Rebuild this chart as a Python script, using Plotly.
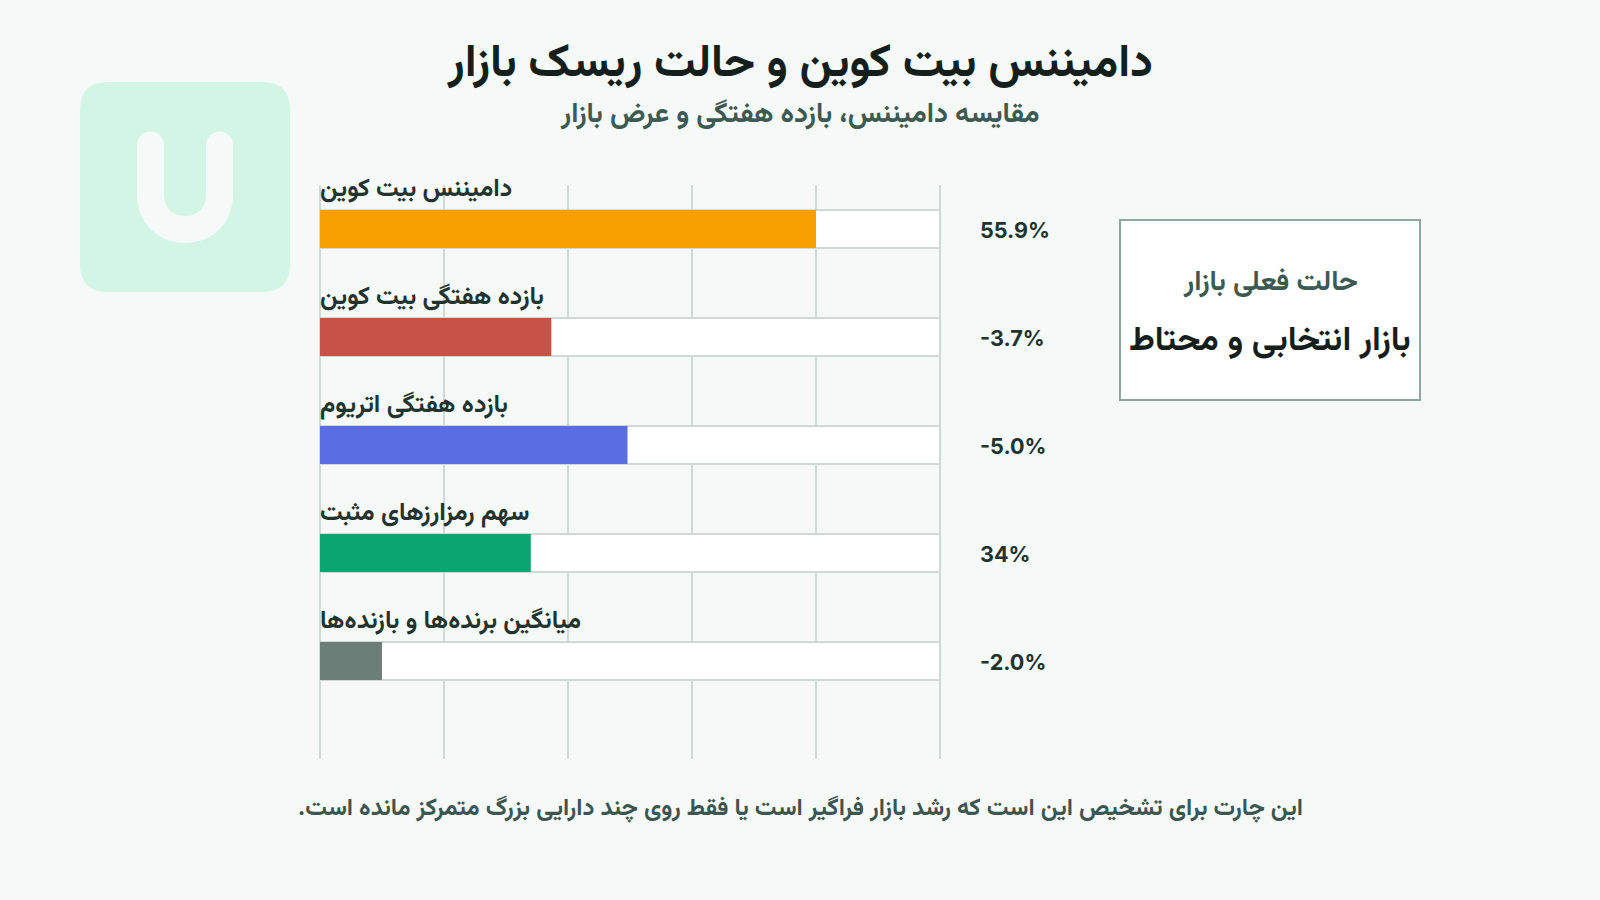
import plotly.graph_objects as go

# metric names, bar fill (score out of 100) and the printed value beside each bar
categories = ['دامیننس بیت کوین', 'بازده هفتگی بیت کوین', 'بازده هفتگی اتریوم', 'سهم رمزارزهای مثبت', 'میانگین برنده‌ها و بازنده‌ها']
scores = [80, 37.3, 49.6, 34, 10]
track = [100, 100, 100, 100, 100]
value_labels = ['55.9%', '-3.7%', '-5.0%', '34%', '-2.0%']
bar_colors = ['#F7A000', '#C85245', '#5B6EE1', '#0BA572', '#6B7F78']

title = 'دامیننس بیت کوین و حالت ریسک بازار'
subtitle = 'مقایسه دامیننس، بازده هفتگی و عرض بازار'
footer = 'این چارت برای تشخیص این است که رشد بازار فراگیر است یا فقط روی چند دارایی بزرگ متمرکز مانده است.\u200f'
box_title = 'حالت فعلی بازار'
box_value = 'بازار انتخابی و محتاط'

W, H = 1600, 900
BG = '#F5F9F8'
GRID = '#CFD9D6'
FONT = 'Vazirmatn'


def px(x):
    return x / W


def py(y):
    return 1 - y / H


fig = go.Figure()
fig.add_trace(go.Bar(y=categories, x=track, orientation='h', width=0.352,
                     marker=dict(color='white', line=dict(color=GRID, width=2)), hoverinfo='skip'))
fig.add_trace(go.Bar(y=categories, x=scores, orientation='h', width=0.352,
                     marker=dict(color=bar_colors, line=dict(width=0))))

# first and last gridline, plotly leaves these out at the axis ends
for edge in [320, 940]:
    fig.add_shape(type='line', xref='paper', yref='paper', x0=px(edge), x1=px(edge), y0=py(185), y1=py(759),
                  line=dict(color=GRID, width=2), layer='below')

# logo in the top left corner
logo_path = 'M {} {} L {} {} C {} {} {} {} {} {} C {} {} {} {} {} {} L {} {}'.format(
    px(150.5), py(145), px(150.5), py(195),
    px(150.5), py(215), px(165), py(229.5), px(185), py(229.5),
    px(205), py(229.5), px(219.5), py(215), px(219.5), py(195),
    px(219.5), py(145))
r = 28
card_path = 'M {} {} L {} {} Q {} {} {} {} L {} {} Q {} {} {} {} L {} {} Q {} {} {} {} L {} {} Q {} {} {} {} Z'.format(
    px(80 + r), py(82), px(290 - r), py(82), px(290), py(82), px(290), py(82 + r),
    px(290), py(292 - r), px(290), py(292), px(290 - r), py(292),
    px(80 + r), py(292), px(80), py(292), px(80), py(292 - r),
    px(80), py(82 + r), px(80), py(82), px(80 + r), py(82))
fig.add_shape(type='path', xref='paper', yref='paper', path=card_path, fillcolor='#D3F5E6', line_width=0, layer='below')
fig.add_shape(type='path', xref='paper', yref='paper', path=logo_path, line=dict(color=BG, width=27), layer='above')
for cx in [150.5, 219.5]:  # round stroke ends
    fig.add_shape(type='circle', xref='paper', yref='paper', x0=px(cx - 13.5), x1=px(cx + 13.5), y0=py(145 - 13.5), y1=py(145 + 13.5),
                  fillcolor=BG, line_width=0, layer='above')

# status box
fig.add_shape(type='rect', xref='paper', yref='paper', x0=px(1120), x1=px(1420), y0=py(220), y1=py(400),
              fillcolor='white', line=dict(color='#8FA5A0', width=2), layer='below')


def text(s, x, y, size, color, weight=700):
    fig.add_annotation(text=s, xref='paper', yref='paper', x=px(x), y=py(y), showarrow=False,
                       xanchor='center', yanchor='middle', font=dict(size=size, color=color, family=FONT, weight=weight))


text(title, 799, 65, 46, '#141E1B')
text(subtitle, 799, 115.5, 28, '#3D5A52')
text(box_title, 1270, 283.5, 28, '#3D5A52')
text(box_value, 1270, 341.5, 34, '#141E1B')
text(footer, 800, 809, 24, '#3D5550')

for cat, val in zip(categories, value_labels):
    fig.add_annotation(text=cat, x=0, y=cat, xref='x', yref='y', showarrow=False, xanchor='left', yanchor='middle',
                       yshift=39.5, xshift=-2, font=dict(size=25, color='#22332E', family=FONT, weight=700))
    fig.add_annotation(text=val, x=100, y=cat, xref='x', yref='y', showarrow=False, xanchor='left', yanchor='middle',
                       xshift=38, yshift=-1, font=dict(size=21.6, color='#22332E', family='Inter', weight=700))

fig.update_layout(
    width=W, height=H, margin=dict(l=0, r=0, t=0, b=0),
    paper_bgcolor=BG, plot_bgcolor=BG,
    barmode='overlay', showlegend=False,
    xaxis=dict(domain=[px(320), px(940)], range=[0, 100], dtick=20, showticklabels=False,
               gridcolor=GRID, gridwidth=2, zeroline=False),
    yaxis=dict(domain=[py(759), py(185)], range=[4.907, -0.407], showticklabels=False, showgrid=False, zeroline=False),
)

fig.write_html('out.html', config=dict(displayModeBar=False),
               post_script="document.body.style.margin='0';document.body.style.background='%s';" % BG)
